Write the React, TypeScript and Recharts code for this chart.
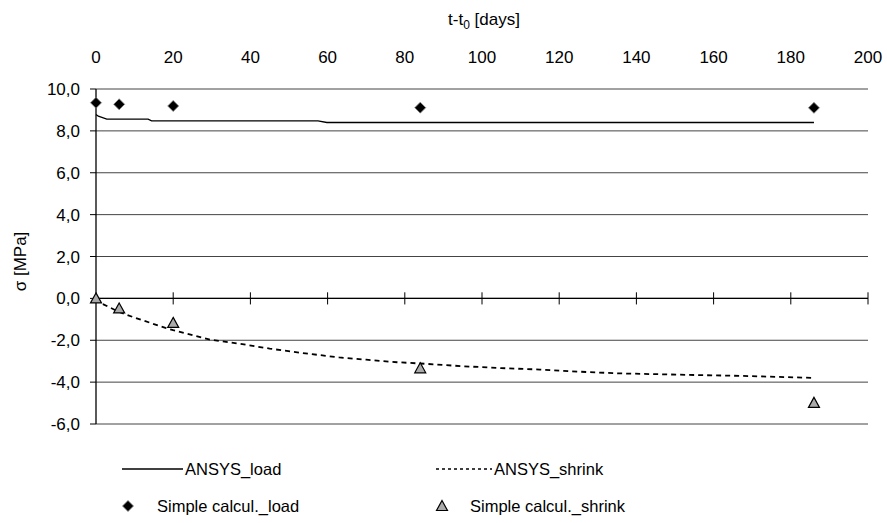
import {
  CartesianGrid,
  ComposedChart,
  Legend,
  Line,
  ReferenceLine,
  Scatter,
  XAxis,
  YAxis,
} from 'recharts';

const FONT = '"Liberation Sans", Arial, sans-serif';

const xTicks = [0, 20, 40, 60, 80, 100, 120, 140, 160, 180, 200];
const yTicks = [-6, -4, -2, 0, 2, 4, 6, 8, 10];

const ansysLoadDays = [0, 0.6, 2.8, 13.5, 14.4, 57.5, 59.8, 186];
const ansysLoadValues = [8.78, 8.7, 8.56, 8.56, 8.48, 8.48, 8.4, 8.4];

const ansysShrinkDays = [0, 1.5, 6, 10, 18, 20, 25, 29.5, 37, 45, 53, 63, 70, 78, 84, 95, 105, 115, 125, 135, 145, 155, 167, 177, 186];
const ansysShrinkValues = [0, -0.25, -0.65, -0.92, -1.41, -1.52, -1.75, -1.97, -2.16, -2.4, -2.6, -2.82, -2.93, -3.05, -3.11, -3.24, -3.33, -3.4, -3.5, -3.58, -3.62, -3.66, -3.7, -3.75, -3.8];

const simpleDays = [0, 6, 20, 84, 186];
const simpleLoadValues = [9.34, 9.27, 9.19, 9.11, 9.1];
const simpleShrinkValues = [0, -0.48, -1.17, -3.34, -4.99];

const zip = (days: number[], vals: number[]) => days.map((d, i) => ({ d, v: vals[i] }));

const loadLine = zip(ansysLoadDays, ansysLoadValues);
const shrinkLine = zip(ansysShrinkDays, ansysShrinkValues);
const loadPts = zip(simpleDays, simpleLoadValues);
const shrinkPts = zip(simpleDays, simpleShrinkValues);

const fmtY = (v: number) => v.toFixed(1).replace('.', ',');

function Diamond({ cx, cy }: any) {
  const r = 5.5;
  return (
    <polygon
      points={`${cx},${cy - r} ${cx + r},${cy} ${cx},${cy + r} ${cx - r},${cy}`}
      fill="#000"
      stroke="#888"
      strokeWidth={0.8}
    />
  );
}

function Triangle({ cx, cy }: any) {
  return (
    <polygon
      points={`${cx},${cy - 5.5} ${cx + 5.5},${cy + 4.5} ${cx - 5.5},${cy + 4.5}`}
      fill="#aaa"
      stroke="#000"
      strokeWidth={1.2}
    />
  );
}

function TopTick({ x, y, payload }: any) {
  return (
    <text x={x} y={y} textAnchor="middle" fontSize={17} fontFamily={FONT} fill="#000">
      {payload.value}
    </text>
  );
}

function LegendBox() {
  const t = { fontSize: 16.5, fontFamily: FONT, fill: '#000' };
  return (
    <svg width={887} height={95} style={{ display: 'block' }}>
      <line x1={122} x2={183} y1={45} y2={45} stroke="#000" strokeWidth={1.3} />
      <text x={185} y={51} {...t}>ANSYS_load</text>
      <line x1={436} x2={492} y1={45} y2={45} stroke="#000" strokeWidth={1.6} strokeDasharray="3 3" />
      <text x={494} y={51} {...t}>ANSYS_shrink</text>
      <Diamond cx={128} cy={82} />
      <text x={157} y={88} {...t}>Simple calcul._load</text>
      <Triangle cx={442} cy={82} />
      <text x={470} y={88} {...t}>Simple calcul._shrink</text>
    </svg>
  );
}

export default function App() {
  return (
    <div style={{ position: 'absolute', left: 0, top: 0, background: '#fff' }}>
      <ComposedChart width={887} height={523} margin={{ top: 0, right: 19, bottom: 4, left: 0 }}>
        <CartesianGrid vertical={false} stroke="#444" strokeWidth={1} />
        <XAxis
          xAxisId="t"
          type="number"
          dataKey="d"
          orientation="top"
          domain={[0, 200]}
          ticks={xTicks}
          height={89}
          axisLine={false}
          tickLine={false}
          tickSize={0}
          tickMargin={26}
          tick={<TopTick />}
          label={{
            content: ({ viewBox }: any) => (
              <text
                x={viewBox.x + viewBox.width / 2 + 2}
                y={viewBox.y + 25}
                textAnchor="middle"
                fontSize={17}
                fontFamily={FONT}
                fill="#000"
              >
                t-t<tspan fontSize={12} dy={4}>0</tspan>
                <tspan dy={-4}> [days]</tspan>
              </text>
            ),
          }}
        />
        <YAxis
          type="number"
          domain={[-6, 10]}
          ticks={yTicks}
          width={96}
          tickFormatter={fmtY}
          axisLine={{ stroke: '#000', strokeWidth: 1.3 }}
          tickLine={{ stroke: '#000' }}
          tickSize={6}
          tickMargin={10}
          tick={{ fontSize: 17, fontFamily: FONT, fill: '#000' }}
          label={{
            content: ({ viewBox }: any) => {
              const cx = 20;
              const cy = viewBox.y + viewBox.height / 2 + 5;
              return (
                <text
                  x={cx}
                  y={cy}
                  transform={`rotate(-90 ${cx} ${cy})`}
                  textAnchor="middle"
                  dominantBaseline="central"
                  fontSize={17}
                  fontFamily={FONT}
                  fill="#000"
                >
                  σ [MPa]
                </text>
              );
            },
          }}
        />
        <ReferenceLine xAxisId="t" y={0} stroke="#000" strokeWidth={1.2} />
        {xTicks.slice(1).map((t) => (
          <ReferenceLine
            key={t}
            xAxisId="t"
            segment={[{ x: t, y: -0.29 }, { x: t, y: 0.29 }]}
            stroke="#000"
          />
        ))}
        <Line
          xAxisId="t"
          data={loadLine}
          dataKey="v"
          type="linear"
          stroke="#000"
          strokeWidth={1.3}
          dot={false}
          isAnimationActive={false}
        />
        <Line
          xAxisId="t"
          data={shrinkLine}
          dataKey="v"
          type="linear"
          stroke="#000"
          strokeWidth={1.8}
          strokeDasharray="5 4"
          dot={false}
          isAnimationActive={false}
        />
        <Scatter xAxisId="t" data={loadPts} dataKey="v" shape={<Diamond />} isAnimationActive={false} />
        <Scatter xAxisId="t" data={shrinkPts} dataKey="v" shape={<Triangle />} isAnimationActive={false} />
        <Legend
          verticalAlign="bottom"
          content={() => <LegendBox />}
          wrapperStyle={{ left: 0, width: 887 }}
        />
      </ComposedChart>
    </div>
  );
}
